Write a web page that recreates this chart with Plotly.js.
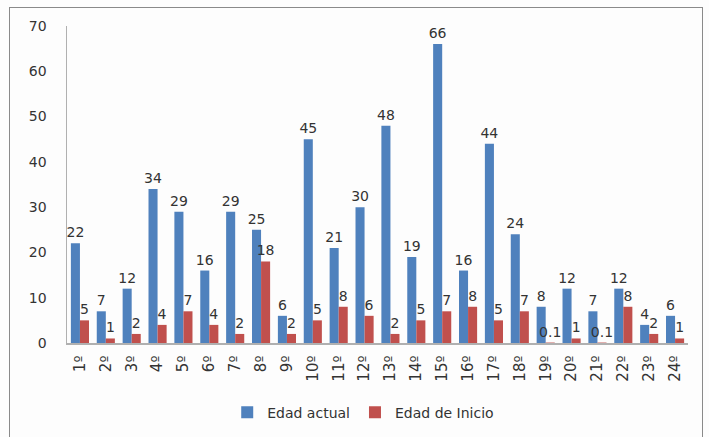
<!DOCTYPE html>
<html>
<head>
<meta charset="utf-8">
<script src="https://cdn.plot.ly/plotly-3.0.1.min.js"></script>
<style>
html,body{margin:0;padding:0;background:#fff;}
#wrap{position:relative;width:709px;height:437px;}
#chart{width:709px;height:437px;}
#frame{position:absolute;left:9px;top:7px;width:694px;height:440px;border:1.5px solid #8a8a8a;box-sizing:border-box;pointer-events:none;}
</style>
</head>
<body>
<div id="wrap"><div id="chart"></div><div id="frame"></div></div>
<script>
const categories = ["1º","2º","3º","4º","5º","6º","7º","8º","9º","10º","11º","12º","13º","14º","15º","16º","17º","18º","19º","20º","21º","22º","23º","24º"];
const edadActual = [22,7,12,34,29,16,29,25,6,45,21,30,48,19,66,16,44,24,8,12,7,12,4,6];
const edadInicio = [5,1,2,4,7,4,2,18,2,5,8,6,2,5,7,8,5,7,0.1,1,0.1,8,2,1];
const yTicks = [0,10,20,30,40,50,60,70];

const font = {family:"DejaVu Sans, sans-serif", size:14, color:"#333333"};

const traces = [
  {type:"bar", name:"Edad actual", x:categories, y:edadActual, text:edadActual.map(String),
   textposition:"outside", constraintext:"none", cliponaxis:false, textfont:font, marker:{color:"#4F81BD"}},
  {type:"bar", name:"Edad de Inicio", x:categories, y:edadInicio, text:edadInicio.map(String),
   textposition:"outside", constraintext:"none", cliponaxis:false, textfont:font, marker:{color:"#C0504D"}}
];

const layout = {
  width:709, height:437,
  margin:{l:67, r:21, t:26, b:94, autoexpand:false},
  paper_bgcolor:"#fdfdfd", plot_bgcolor:"#fdfdfd",
  font:font,
  barmode:"group", bargap:0.3, bargroupgap:0,
  showlegend:true,
  legend:{orientation:"h", x:0.477, xanchor:"center", y:-0.22, yanchor:"middle", font:font, traceorder:"normal"},
  xaxis:{type:"category", tickangle:-90, showline:true, linecolor:"#b0b0b0", linewidth:1.5, automargin:false,
         showgrid:false, ticks:"outside", ticklen:5, tickcolor:"rgba(0,0,0,0)", tickfont:{family:font.family, size:15, color:font.color}, zeroline:false},
  yaxis:{range:[0,70], tickvals:yTicks, ticktext:yTicks.map(String), showline:true, linecolor:"#b0b0b0", linewidth:1.5,
         automargin:false, showgrid:false, zeroline:false, ticks:"", ticklabelstandoff:16, tickfont:font}
};

Plotly.newPlot("chart", traces, layout, {displayModeBar:false, staticPlot:true});
</script>
</body>
</html>
